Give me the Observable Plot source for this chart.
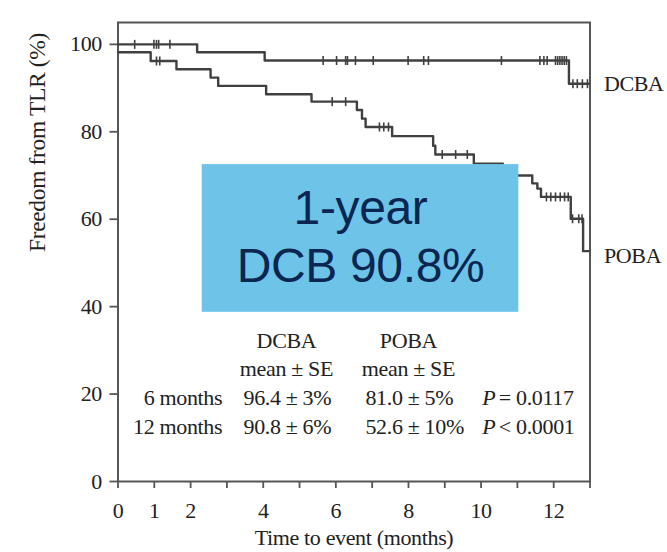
<!DOCTYPE html>
<html>
<head>
<meta charset="utf-8">
<script src="https://cdn.jsdelivr.net/npm/d3@7"></script>
<script src="https://cdn.jsdelivr.net/npm/@observablehq/plot@0.6"></script>
<style>
  html, body { margin: 0; padding: 0; background: #fff; }
</style>
</head>
<body>
<div id="chart"></div>
<script>
// ---- Data ----
const dcbaTime = [0, 2.18, 4.04, 12.42, 12.97];
const dcbaSurv = [100, 98.2, 96.3, 91.0, 91.0];
const dcbaCensorTime = [0.46, 0.99, 1.06, 1.12, 1.43, 5.65, 6.02, 6.27, 6.32, 6.54, 7.03, 7.99, 8.42, 8.55, 10.56, 11.62, 11.73, 11.82, 12.05, 12.11, 12.17, 12.23, 12.29, 12.35, 12.53, 12.65, 12.79, 12.93];

const pobaTime = [0, 0.9, 1.61, 2.55, 2.76, 4.08, 5.33, 6.58, 6.72, 6.82, 7.55, 8.68, 8.74, 9.80, 10.6, 10.95, 11.41, 11.55, 11.65, 12.47, 12.81, 12.97];
const pobaSurv = [98.2, 96.2, 94.3, 92.4, 90.5, 88.6, 86.9, 85.0, 83.0, 81.1, 79.0, 76.8, 74.8, 72.7, 71.4, 70.0, 68.2, 67.0, 65.1, 60.1, 52.7, 52.7];
const pobaCensorTime = [1.06, 1.15, 5.9, 6.27, 7.2, 7.32, 7.45, 8.93, 9.30, 9.62, 11.8, 11.92, 12.05, 12.18, 12.3, 12.4, 12.52, 12.69, 12.78];

const seriesNames = ["DCBA", "POBA"];
const xTicks = [0, 1, 2, 3, 4, 5, 6, 7, 8, 9, 10, 11, 12, 13];
const xTickLabels = [0, 1, 2, 4, 6, 8, 10, 12];
const yTicks = [0, 20, 40, 60, 80, 100];
const xTitle = "Time to event (months)";
const yTitle = "Freedom from TLR (%)";

const statLabel = "mean ± SE";
const timepoints = ["6 months", "12 months"];
const dcbaValues = ["96.4 ± 3%", "90.8 ± 6%"];
const pobaValues = ["81.0 ± 5%", "52.6 ± 10%"];
const pSigns = ["=", "<"];
const pValues = ["0.0117", "0.0001"];
const calloutLines = ["1-year", "DCB 90.8%"];

// ---- Build tables ----
const curve = (times, surv, name) => times.map((t, i) => ({time: t, surv: surv[i], group: name}));
const dcba = curve(dcbaTime, dcbaSurv, "DCBA");
const poba = curve(pobaTime, pobaSurv, "POBA");
const stepAt = (times, surv, t) => { let v = surv[0]; for (let i = 0; i < times.length; i++) if (times[i] <= t) v = surv[i]; return v; };
const censors = [
  ...dcbaCensorTime.map(t => ({time: t, surv: stepAt(dcbaTime, dcbaSurv, t)})),
  ...pobaCensorTime.map(t => ({time: t, surv: stepAt(pobaTime, pobaSurv, t)}))
];
const dcbaEnd = [{...dcba[dcba.length - 1], name: seriesNames[0]}];
const pobaEnd = [{...poba[poba.length - 1], name: seriesNames[1]}];

// ---- Layout constants (annotation positions in data units) ----
const rowY = [17.39, 10.98];
const headY = 30.43, statY = 24.02;
const groupX = [4.64, 8.0];
const labelRightX = 2.87, dcbaLeftX = 3.456, pobaLeftX = 6.816, pLeftX = 10.03, pRestX = 10.49;
const box = [{x1: 2.32, x2: 11.04, y1: 38.7, y2: 72.5}];
const calloutX = 6.68, calloutY = [58.97, 45.6];

const serif = "'Liberation Serif', 'Times New Roman', Times, serif";
const sans = "'Liberation Sans', Arial, Helvetica, sans-serif";
const lineColor = "#404040";
const frameColor = "#555";
const textColor = "#222";
const fs = 22;
const ls = "-0.35px";

const vtick = { draw(context) { context.moveTo(0, -4.5); context.lineTo(0, 4.5); } };
const tableText = (data, opts) => Plot.text(data, {lineAnchor: "bottom", fontSize: fs, fill: textColor, ...opts});

const chart = Plot.plot({
  width: 667,
  height: 552,
  marginLeft: 117.5,
  marginRight: 77.5,
  marginTop: 22,
  marginBottom: 71,
  x: {domain: [0, 13]},
  y: {domain: [0, 105]},
  style: {fontFamily: serif, fontSize: fs + "px", color: textColor, background: "#fff", overflow: "visible", letterSpacing: ls},
  marks: [
    Plot.axisX({ticks: xTicks, tickSize: 7, tickPadding: 14, stroke: frameColor, strokeWidth: 1.8,
      tickFormat: d => xTickLabels.includes(d) ? String(d) : "", label: null, fontSize: fs, fill: textColor}),
    Plot.axisY({ticks: yTicks, tickSize: 8, tickPadding: 8, stroke: frameColor, strokeWidth: 1.8,
      label: null, fontSize: fs, fill: textColor}),
    Plot.frame({stroke: frameColor, strokeWidth: 2}),
    Plot.line(dcba, {x: "time", y: "surv", curve: "step-after", stroke: lineColor, strokeWidth: 2.4}),
    Plot.line(poba, {x: "time", y: "surv", curve: "step-after", stroke: lineColor, strokeWidth: 2.4}),
    Plot.dot(censors, {x: "time", y: "surv", symbol: vtick, fill: "none", stroke: lineColor, strokeWidth: 1.6}),
    Plot.text(dcbaEnd, {x: "time", y: "surv", text: "name", dx: 15, textAnchor: "start", lineAnchor: "middle", fontSize: fs, fill: textColor}),
    Plot.text(pobaEnd, {x: "time", y: "surv", text: "name", dx: 15, dy: 5, textAnchor: "start", lineAnchor: "middle", fontSize: fs, fill: textColor}),
    Plot.rect(box, {x1: "x1", x2: "x2", y1: "y1", y2: "y2", fill: "#6ec4e8"}),
    Plot.text(calloutLines, {x: () => calloutX, y: (d, i) => calloutY[i], text: d => d, lineAnchor: "bottom",
      fontFamily: sans, fontSize: 48, fill: "#0b2650"}),
    // table
    tableText(seriesNames, {x: (d, i) => groupX[i], y: () => headY, text: d => d}),
    tableText(seriesNames, {x: (d, i) => groupX[i], y: () => statY, text: () => statLabel}),
    tableText(timepoints, {x: () => labelRightX, y: (d, i) => rowY[i], text: d => d, textAnchor: "end"}),
    tableText(dcbaValues, {x: () => dcbaLeftX, y: (d, i) => rowY[i], text: d => d, textAnchor: "start"}),
    tableText(pobaValues, {x: () => pobaLeftX, y: (d, i) => rowY[i], text: d => d, textAnchor: "start"}),
    tableText(pValues, {x: () => pLeftX, y: (d, i) => rowY[i], text: () => "P", fontStyle: "italic", textAnchor: "start"}),
    tableText(pValues, {x: () => pRestX, y: (d, i) => rowY[i], text: (d, i) => pSigns[i] + " " + d, textAnchor: "start"}),
    // axis titles
    Plot.text([xTitle], {frameAnchor: "bottom", dy: 63, lineAnchor: "bottom", text: d => d, fontSize: fs, fill: textColor}),
    Plot.text([yTitle], {frameAnchor: "left", dx: -80.5, rotate: -90, lineAnchor: "middle", text: d => d, fontSize: 23.5, fill: textColor})
  ]
});
document.getElementById("chart").appendChild(chart);
</script>
</body>
</html>
